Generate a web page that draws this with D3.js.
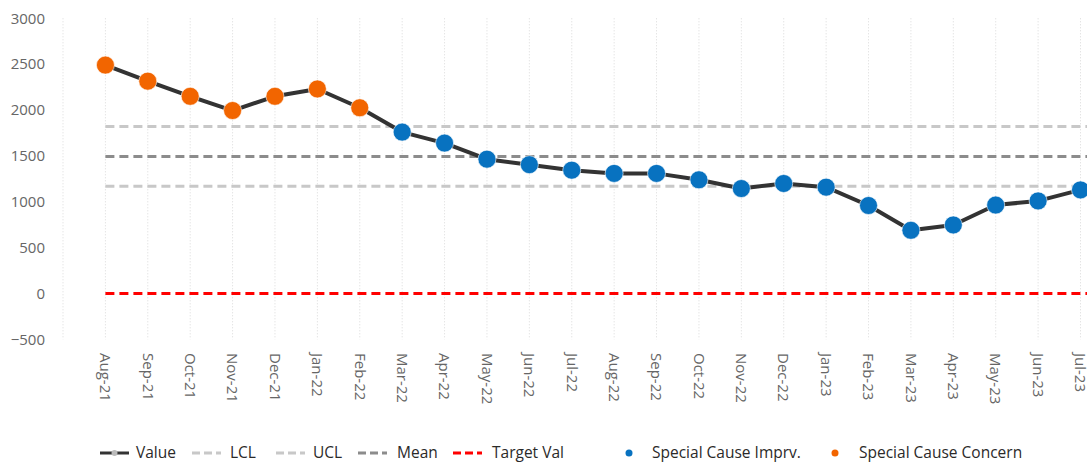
<!DOCTYPE html>
<html>
<head>
<meta charset="utf-8">
<script src="https://cdn.jsdelivr.net/npm/d3@7"></script>
<style>
  body { margin: 0; background: #fff; }
  text { font-family: "Open Sans", "Segoe UI", sans-serif; }
</style>
</head>
<body>
<svg id="chart"></svg>
<script>
// Data
const months = ["Aug-21", "Sep-21", "Oct-21", "Nov-21", "Dec-21", "Jan-22", "Feb-22", "Mar-22",
  "Apr-22", "May-22", "Jun-22", "Jul-22", "Aug-22", "Sep-22", "Oct-22", "Nov-22", "Dec-22",
  "Jan-23", "Feb-23", "Mar-23", "Apr-23", "May-23", "Jun-23", "Jul-23"];
const values = [2490, 2315, 2150, 1995, 2150, 2230, 2025, 1760, 1640, 1465, 1405, 1345,
  1310, 1310, 1240, 1145, 1200, 1160, 960, 690, 748, 965, 1010, 1130];
// "concern" = orange, "improve" = blue
const status = ["concern", "concern", "concern", "concern", "concern", "concern", "concern",
  "improve", "improve", "improve", "improve", "improve", "improve", "improve", "improve",
  "improve", "improve", "improve", "improve", "improve", "improve", "improve", "improve", "improve"];
const meanVal = 1495;
const uclVal = 1820;
const lclVal = 1170;
const targetVal = 0;
const yTicks = [-500, 0, 500, 1000, 1500, 2000, 2500, 3000];

const width = 1087, height = 465;
const svg = d3.select("#chart").attr("width", width).attr("height", height);

// Scales
const x = d3.scaleLinear().domain([-1, months.length - 1]).range([63, 1080.5]);
const y = d3.scaleLinear().domain([-500, 3000]).range([339.5, 18.3]);

const colors = { concern: "#f26500", improve: "#0872c0" };

// Vertical dotted gridlines
const gridIdx = d3.range(-1, months.length);
svg.append("g")
  .selectAll("line")
  .data(gridIdx)
  .join("line")
  .attr("x1", (d) => x(d))
  .attr("x2", (d) => x(d))
  .attr("y1", y(3000))
  .attr("y2", y(-500))
  .attr("stroke", "#d9d9d9")
  .attr("stroke-width", 1)
  .attr("stroke-dasharray", "1,2");

// Y axis labels
const yAxis = svg.append("g")
  .attr("transform", "translate(47,0)")
  .call(d3.axisLeft(y).tickValues(yTicks).tickFormat(d3.format("d")).tickSize(0).tickPadding(2));
yAxis.select(".domain").remove();
yAxis.selectAll("text")
  .attr("font-size", 15)
  .attr("fill", "#666")
  .style("font-family", "'Open Sans', sans-serif");

// X axis labels (rotated)
svg.append("g")
  .selectAll("text")
  .data(months)
  .join("text")
  .attr("transform", (d, i) => `translate(${x(i)},353) rotate(90)`)
  .attr("dy", "0.35em")
  .attr("text-anchor", "start")
  .attr("font-size", 15)
  .attr("fill", "#666")
  .text((d) => d);

// Reference lines
const refLines = [
  { v: uclVal, color: "#c8c8c8", dash: "9,5" },
  { v: lclVal, color: "#c8c8c8", dash: "9,5" },
  { v: meanVal, color: "#8c8c8c", dash: "9,5" },
  { v: targetVal, color: "#ff0000", dash: "9,5" },
];
svg.append("g")
  .selectAll("line")
  .data(refLines)
  .join("line")
  .attr("x1", x(0))
  .attr("x2", width)
  .attr("y1", (d) => y(d.v))
  .attr("y2", (d) => y(d.v))
  .attr("stroke", (d) => d.color)
  .attr("stroke-width", 3)
  .attr("stroke-dasharray", (d) => d.dash);

// Value line
const line = d3.line().x((d, i) => x(i)).y((d) => y(d));
svg.append("path")
  .datum(values)
  .attr("d", line)
  .attr("fill", "none")
  .attr("stroke", "#333")
  .attr("stroke-width", 4)
  .attr("stroke-linejoin", "round");

// Markers
svg.append("g")
  .selectAll("circle")
  .data(values)
  .join("circle")
  .attr("cx", (d, i) => x(i))
  .attr("cy", (d) => y(d))
  .attr("r", 9)
  .attr("fill", (d, i) => colors[status[i]])
  .attr("stroke", "#fff")
  .attr("stroke-opacity", 0.6)
  .attr("stroke-width", 1);

// Legend
const legY = 453;
const legend = svg.append("g").attr("font-size", 15.5).attr("fill", "#2b2a29");

const lineItems = [
  { label: "Value", x0: 100, color: "#333", dash: null, tx: 136 },
  { label: "LCL", x0: 192, color: "#c8c8c8", dash: "8,4", tx: 230 },
  { label: "UCL", x0: 276, color: "#c8c8c8", dash: "8,4", tx: 313 },
  { label: "Mean", x0: 358, color: "#8c8c8c", dash: "8,4", tx: 397 },
  { label: "Target Val", x0: 453, color: "#ff0000", dash: "8,4", tx: 492 },
];
lineItems.forEach((d) => {
  legend.append("line")
    .attr("x1", d.x0).attr("x2", d.x0 + 29)
    .attr("y1", legY).attr("y2", legY)
    .attr("stroke", d.color)
    .attr("stroke-width", 3)
    .attr("stroke-dasharray", d.dash);
  if (d.label === "Value") {
    legend.append("circle")
      .attr("cx", d.x0 + 14.5).attr("cy", legY).attr("r", 3)
      .attr("fill", "#bbb");
  }
  legend.append("text").attr("x", d.tx).attr("y", legY).attr("dy", "0.35em").text(d.label);
});

const dotItems = [
  { label: "Special Cause Imprv.", cx: 629, color: colors.improve, tx: 652 },
  { label: "Special Cause Concern", cx: 835, color: colors.concern, tx: 859 },
];
dotItems.forEach((d) => {
  legend.append("circle").attr("cx", d.cx).attr("cy", legY).attr("r", 3.5).attr("fill", d.color);
  legend.append("text").attr("x", d.tx).attr("y", legY).attr("dy", "0.35em").text(d.label);
});
</script>
</body>
</html>
